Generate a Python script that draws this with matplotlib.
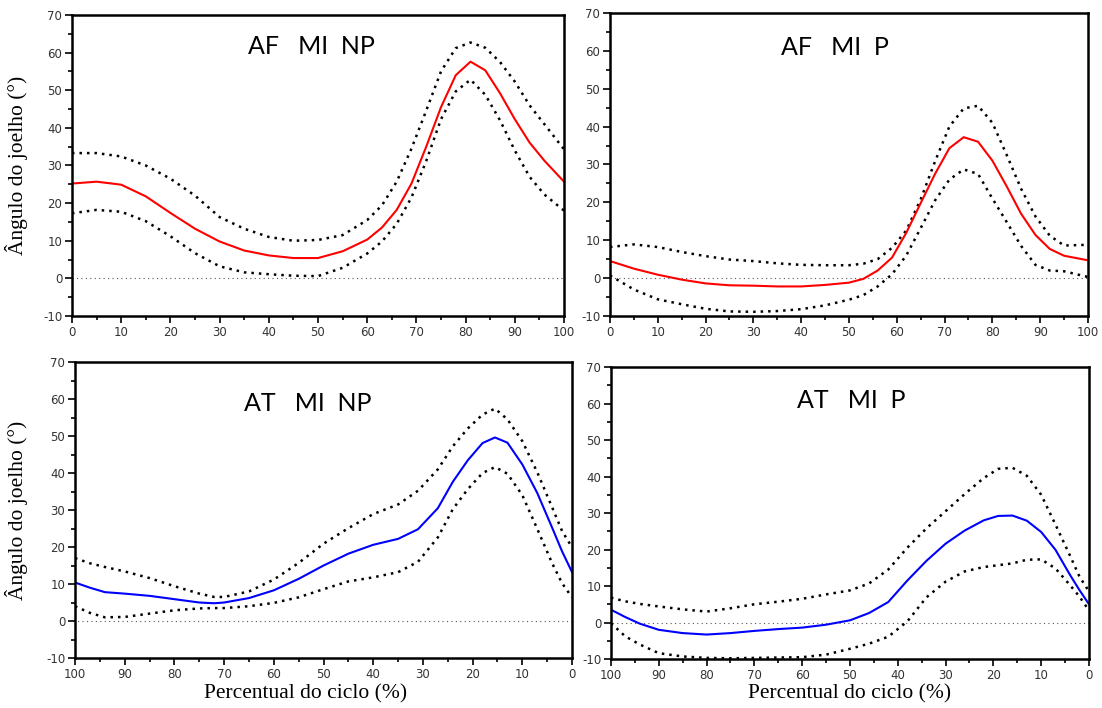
import matplotlib
matplotlib.use("Agg")
import matplotlib.pyplot as plt
from matplotlib.ticker import MultipleLocator

plt.rcParams['axes.unicode_minus'] = False

# --- AF MI NP (top left)
tl_x = [0, 5, 10, 15, 20, 25, 30, 35, 40, 45, 50, 55, 60, 63, 66, 69, 72, 75, 78, 81, 84, 87, 90, 93, 96, 100]
tl_mean = [25.2, 25.7, 24.9, 21.8, 17.4, 13.2, 9.8, 7.4, 6.1, 5.4, 5.4, 7.2, 10.3, 13.5, 18.2, 25.2, 35.0, 45.5, 54.0, 57.6, 55.3, 49.2, 42.3, 36.1, 31.3, 25.7]
tl_upper = [33.3, 33.3, 32.4, 30.0, 26.5, 22.0, 16.3, 13.2, 11.0, 10.0, 10.2, 11.5, 15.5, 19.4, 25.7, 34.5, 44.6, 55.0, 61.2, 62.7, 61.3, 57.5, 52.3, 46.0, 41.0, 34.3]
tl_lower = [17.3, 18.2, 17.7, 15.2, 11.2, 6.7, 3.2, 1.6, 1.1, 0.7, 0.6, 2.8, 6.6, 9.8, 14.5, 21.5, 31.2, 42.3, 49.7, 52.8, 48.8, 42.0, 34.0, 27.0, 22.3, 18.0]

# --- AF MI P (top right)
tr_x = [0, 5, 10, 15, 20, 25, 30, 35, 40, 45, 50, 53, 56, 59, 62, 65, 68, 71, 74, 77, 80, 83, 86, 89, 92, 95, 100]
tr_mean = [4.5, 2.5, 0.9, -0.4, -1.4, -1.9, -2.0, -2.2, -2.2, -1.8, -1.2, -0.2, 2.0, 5.4, 12.0, 19.8, 27.5, 34.3, 37.2, 36.0, 31.0, 24.2, 17.0, 11.4, 7.7, 5.9, 4.7]
tr_upper = [8.2, 8.9, 8.2, 6.9, 5.8, 4.9, 4.5, 3.9, 3.5, 3.4, 3.4, 3.8, 5.0, 8.0, 12.6, 20.8, 30.8, 40.0, 44.8, 45.5, 41.0, 32.5, 23.6, 16.3, 11.2, 8.6, 8.8]
tr_lower = [0.7, -3.0, -5.6, -6.9, -8.1, -8.8, -8.9, -8.7, -8.2, -7.2, -5.7, -4.5, -2.2, 1.0, 6.0, 13.2, 20.5, 26.0, 28.7, 27.5, 21.0, 14.8, 8.5, 3.5, 2.0, 1.8, 0.3]

# --- AT MI NP (bottom left)
bl_x = [100, 97, 94, 90, 85, 80, 75, 72, 70, 65, 60, 55, 50, 45, 40, 35, 31, 27, 24, 21, 18, 15.5, 13, 10, 7, 4, 2, 0]
bl_mean = [10.4, 9.0, 7.8, 7.4, 6.8, 5.9, 5.0, 4.8, 5.0, 6.2, 8.3, 11.4, 15.0, 18.2, 20.6, 22.2, 24.8, 30.5, 37.6, 43.4, 48.1, 49.6, 48.2, 42.3, 34.6, 25.2, 18.8, 13.2]
bl_upper = [17.0, 15.6, 14.6, 13.4, 11.6, 9.4, 7.4, 6.5, 6.5, 8.0, 11.2, 15.7, 20.9, 25.1, 28.9, 31.5, 35.2, 41.0, 47.2, 52.0, 55.8, 57.4, 54.5, 48.6, 40.2, 30.7, 24.3, 19.9]
bl_lower = [4.0, 2.2, 1.0, 1.1, 2.0, 2.9, 3.4, 3.5, 3.5, 4.0, 4.9, 6.4, 8.6, 10.7, 11.8, 13.2, 16.0, 22.6, 30.2, 35.6, 40.0, 41.6, 39.8, 34.0, 24.9, 15.6, 10.2, 6.4]

# --- AT MI P (bottom right)
br_x = [100, 97, 94, 90, 85, 80, 75, 70, 65, 60, 55, 50, 46, 42, 38, 34, 30, 26, 22, 19, 16, 13, 10, 7, 4, 2, 0]
br_mean = [3.5, 1.5, -0.3, -2.0, -2.9, -3.3, -2.9, -2.3, -1.8, -1.4, -0.6, 0.6, 2.6, 5.6, 11.5, 16.9, 21.6, 25.2, 28.0, 29.2, 29.3, 27.9, 24.8, 19.9, 13.1, 8.9, 5.0]
br_upper = [6.8, 5.8, 5.1, 4.4, 3.6, 3.0, 3.9, 5.0, 5.7, 6.5, 7.7, 8.8, 10.7, 14.5, 20.5, 25.8, 30.5, 35.2, 39.6, 42.1, 42.4, 40.2, 35.0, 26.8, 18.4, 12.6, 8.5]
br_lower = [-0.2, -3.8, -6.0, -8.4, -9.3, -9.7, -9.8, -9.7, -9.6, -9.5, -8.8, -7.2, -5.8, -3.9, 0.3, 6.9, 11.2, 14.0, 15.2, 15.7, 16.2, 17.2, 17.3, 14.8, 10.3, 7.1, 3.3]

panels = [
    # rect, x, mean, upper, lower, colour, title, title pos, reversed
    ([0.0653, 0.5537, 0.4465, 0.4251], tl_x, tl_mean, tl_upper, tl_lower, "#ff0000", "AF   MI  NP", (0.486, 0.895), False),
    ([0.5535, 0.5537, 0.4338, 0.4280], tr_x, tr_mean, tr_upper, tr_lower, "#ff0000", "AF   MI  P", (0.47, 0.885), False),
    ([0.0681, 0.0706, 0.4510, 0.4181], bl_x, bl_mean, bl_upper, bl_lower, "#0000ff", "AT   MI  NP", (0.469, 0.86), True),
    ([0.5544, 0.0692, 0.4338, 0.4124], br_x, br_mean, br_upper, br_lower, "#0000ff", "AT   MI  P", (0.502, 0.885), True),
]

fig = plt.figure(figsize=(11.02, 7.08), dpi=100)

axes = []
for rect, x, m, up, lo, col, title, tpos, rev in panels:
    ax = fig.add_axes(rect)
    ax.plot([0, 100], [0, 0], color="#555555", lw=0.8, linestyle=(0, (1, 3)))
    ax.plot(x, up, color="black", lw=1.8, linestyle=(0, (1, 2)))
    ax.plot(x, lo, color="black", lw=1.8, linestyle=(0, (1, 2)))
    ax.plot(x, m, color=col, lw=1.5)
    ax.set_ylim(-10, 70)
    if rev:
        ax.set_xlim(100, 0)
    else:
        ax.set_xlim(0, 100)
    ax.xaxis.set_major_locator(MultipleLocator(10))
    ax.xaxis.set_minor_locator(MultipleLocator(5))
    ax.yaxis.set_major_locator(MultipleLocator(10))
    ax.yaxis.set_minor_locator(MultipleLocator(5))
    ax.tick_params(which="major", direction="out", length=5, width=1.2,
                   labelsize=8.5, labelcolor="#333333", pad=2)
    ax.tick_params(which="minor", direction="out", length=3, width=1.2)
    for s in ax.spines.values():
        s.set_linewidth(1.8)
    ax.text(tpos[0], tpos[1], title, transform=ax.transAxes, ha="center", va="center",
            fontsize=18, family="Lato")
    axes.append(ax)

axes[0].set_ylabel("Ângulo do joelho (°)", family="Liberation Serif", fontsize=15.5)
axes[0].yaxis.set_label_coords(-0.089, 0.5)
axes[2].set_ylabel("Ângulo do joelho (°)", family="Liberation Serif", fontsize=15.5)
axes[2].yaxis.set_label_coords(-0.095, 0.5)

axes[2].set_xlabel("Percentual do ciclo (%)", family="Liberation Serif", fontsize=15.5)
axes[2].xaxis.set_label_coords(0.463, -0.087)
axes[3].set_xlabel("Percentual do ciclo (%)", family="Liberation Serif", fontsize=15.5)
axes[3].xaxis.set_label_coords(0.5, -0.088)

fig.savefig("out.png", dpi=100)
